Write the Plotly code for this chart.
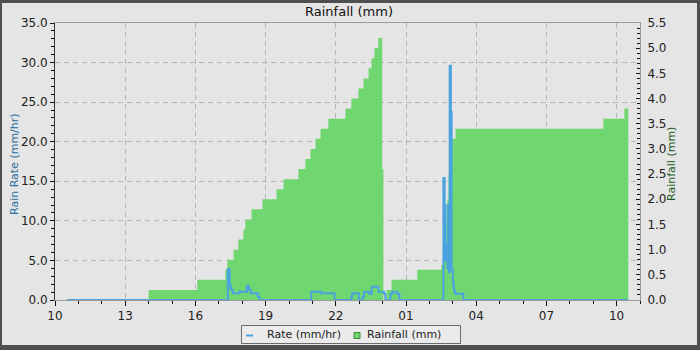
import plotly.graph_objects as go

# ---------------- data ----------------
rain_times = [
    "2024-06-01 14:00", "2024-06-01 16:05", "2024-06-01 17:17", "2024-06-01 17:22", "2024-06-01 17:38",
    "2024-06-01 17:50", "2024-06-01 18:03", "2024-06-01 18:08", "2024-06-01 18:24", "2024-06-01 18:52",
    "2024-06-01 19:28", "2024-06-01 19:46", "2024-06-01 20:24", "2024-06-01 20:42", "2024-06-01 20:55",
    "2024-06-01 21:08", "2024-06-01 21:21", "2024-06-01 21:41", "2024-06-01 22:25", "2024-06-01 22:40",
    "2024-06-01 22:58", "2024-06-01 23:11", "2024-06-01 23:24", "2024-06-01 23:32", "2024-06-01 23:39",
    "2024-06-01 23:49", "2024-06-01 23:59", "2024-06-02 00:02", "2024-06-02 00:10", "2024-06-02 00:23",
    "2024-06-02 01:29", "2024-06-02 02:31", "2024-06-02 02:36", "2024-06-02 02:39", "2024-06-02 02:44",
    "2024-06-02 02:46", "2024-06-02 02:49", "2024-06-02 02:52", "2024-06-02 02:54", "2024-06-02 03:07",
    "2024-06-02 09:26", "2024-06-02 10:20", "2024-06-02 10:30",
]
rain_mm = [
    0.2, 0.4, 0.6, 0.8, 1.0,
    1.2, 1.4, 1.6, 1.8, 2.0,
    2.2, 2.4, 2.6, 2.8, 3.0,
    3.2, 3.4, 3.6, 3.8, 4.0,
    4.2, 4.4, 4.6, 4.8, 5.0,
    5.2, 2.6, 0.0, 0.2, 0.4,
    0.6, 0.7, 1.1, 1.5, 1.9,
    2.0, 2.5, 2.9, 3.2, 3.4,
    3.6, 3.8, 0.0,
]

rate_times = [
    "2024-06-01 10:30", "2024-06-01 17:23", "2024-06-01 17:28", "2024-06-01 17:31", "2024-06-01 17:36",
    "2024-06-01 17:53", "2024-06-01 18:12", "2024-06-01 18:17", "2024-06-01 18:22", "2024-06-01 18:40",
    "2024-06-01 18:45", "2024-06-01 20:57", "2024-06-01 21:23", "2024-06-01 21:57", "2024-06-01 22:40",
    "2024-06-01 22:42", "2024-06-01 22:59", "2024-06-01 23:09", "2024-06-01 23:12", "2024-06-01 23:26",
    "2024-06-01 23:32", "2024-06-01 23:49", "2024-06-02 00:04", "2024-06-02 00:07", "2024-06-02 00:20",
    "2024-06-02 00:25", "2024-06-02 00:38", "2024-06-02 00:43", "2024-06-02 02:36", "2024-06-02 02:39",
    "2024-06-02 02:41", "2024-06-02 02:44", "2024-06-02 02:46", "2024-06-02 02:48", "2024-06-02 02:49",
    "2024-06-02 02:50", "2024-06-02 02:52", "2024-06-02 02:55", "2024-06-02 02:57", "2024-06-02 03:00",
    "2024-06-02 03:02", "2024-06-02 03:04", "2024-06-02 03:06", "2024-06-02 03:27", "2024-06-02 10:30",
]
rate_mmhr = [
    0.0, 3.9, 1.8, 1.3, 0.85,
    1.05, 1.8, 1.3, 0.85, 0.4,
    0.0, 1.05, 0.85, 0.0, 0.4,
    0.85, 0.0, 0.4, 1.05, 0.76,
    1.68, 1.05, 0.76, 0.0, 0.76,
    1.05, 0.76, 0.0, 15.4, 12.0,
    5.0, 7.0, 4.0, 12.0, 10.1,
    3.5, 29.6, 23.8, 3.8, 2.3,
    1.5, 1.05, 0.8, 0.0, 0.0,
]

x_range = ["2024-06-01 10:00", "2024-06-02 11:00"]
rate_ticks = [0, 5, 10, 15, 20, 25, 30, 35]
series_names = ["Rate (mm/hr)", "Rainfall (mm)"]

# ---------------- style ----------------
W, H = 700, 350
ML, MR, MT, MB = 55, 60, 23, 50
PW, PH = W - ML - MR, H - MT - MB
BG = "#e5e5e5"
GREEN = "rgb(112,214,112)"
BLUE = "rgb(74,163,223)"
FONT = "DejaVu Sans"


def px(xp):
    return (xp - ML) / PW


def py(yp):
    return (H - MB - yp) / PH


fig = go.Figure()

# cumulative rainfall (main y axis, drawn right)
fig.add_trace(go.Scatter(
    x=rain_times, y=rain_mm, mode="lines", line=dict(shape="hv", width=0, color=GREEN),
    fill="tozeroy", fillcolor=GREEN, yaxis="y", name=series_names[1], hoverinfo="skip",
))
# rain rate (overlay axis, drawn left, on top)
fig.add_trace(go.Scatter(
    x=rate_times, y=rate_mmhr, mode="lines", line=dict(shape="hv", width=2, color=BLUE),
    yaxis="y2", name=series_names[0],
))

grid = dict(showgrid=True, gridcolor="#b6b6b6", griddash="5px,4px", gridwidth=1)

fig.update_layout(
    width=W, height=H, showlegend=False,
    margin=dict(l=ML, r=MR, t=MT, b=MB, pad=0, autoexpand=False),
    paper_bgcolor=BG, plot_bgcolor=BG,
    font=dict(family=FONT, size=12, color="#222"),
    title=dict(text="Rainfall (mm)", x=349 / W, xanchor="center", xref="container",
               y=1 - 11.5 / H, yanchor="middle", yref="container",
               font=dict(size=13, color="#111", family=FONT)),
    xaxis=dict(
        type="date", range=x_range, tickformat="%H", dtick=3 * 3600000, tick0=x_range[0],
        ticks="outside", ticklen=5, tickcolor="#111", tickwidth=1,
        minor=dict(dtick=3600000, tick0=x_range[0], ticks="outside", ticklen=3, tickcolor="#111", showgrid=False),
        showline=True, linecolor="#9a9a9a", linewidth=1, mirror=True, zeroline=False,
        tickfont=dict(size=12, color="#222"), automargin=False, **grid,
    ),
    yaxis=dict(
        side="right", range=[0, 5.5], dtick=0.5, tick0=0, tickformat=".1f",
        ticks="inside", ticklen=4, tickcolor="#111",
        minor=dict(dtick=0.1, ticks="inside", ticklen=3, tickcolor="#111", showgrid=False),
        showgrid=False, zeroline=False, showline=True, linecolor="#9a9a9a",
        tickfont=dict(size=12, color="#222"), ticklabelstandoff=4, automargin=False,
    ),
    yaxis2=dict(
        side="left", overlaying="y", range=[0, 35], tickvals=rate_ticks, tickformat=".1f",
        ticks="outside", ticklen=4, tickcolor="#111",
        minor=dict(dtick=1, ticks="outside", ticklen=3, tickcolor="#111", showgrid=False),
        zeroline=False, showline=True, linecolor="#333",
        tickfont=dict(size=12, color="#222"), automargin=False, **grid,
    ),
    annotations=[
        dict(text="Rain Rate (mm/hr)", xref="paper", yref="paper", x=px(14), y=py(164),
             xanchor="center", yanchor="middle", textangle=-90, showarrow=False,
             font=dict(size=11, color="#2a6f9e", family=FONT)),
        dict(text="Rainfall (mm)", xref="paper", yref="paper", x=px(671), y=py(164),
             xanchor="center", yanchor="middle", textangle=-90, showarrow=False,
             font=dict(size=11, color="#1d5e1d", family=FONT)),
        # legend texts
        dict(text=series_names[0], xref="paper", yref="paper", x=px(266), y=py(334.5),
             xanchor="left", yanchor="middle", showarrow=False, borderpad=0,
             font=dict(size=11, color="#222", family=FONT)),
        dict(text=series_names[1], xref="paper", yref="paper", x=px(366), y=py(334.5),
             xanchor="left", yanchor="middle", showarrow=False, borderpad=0,
             font=dict(size=11, color="#222", family=FONT)),
    ],
)

# legend box and symbols
fig.add_shape(type="rect", xref="paper", yref="paper",
              x0=px(241.5), x1=px(460.5), y0=py(343.5), y1=py(325.5),
              line=dict(width=1, color="#6a6a6a"), fillcolor="#ebebeb", layer="above")
fig.add_shape(type="line", xref="paper", yref="paper",
              x0=px(246), x1=px(253), y0=py(335.5), y1=py(335.5),
              line=dict(width=2, color=BLUE), layer="above")
fig.add_shape(type="rect", xref="paper", yref="paper",
              x0=px(354), x1=px(360), y0=py(338.5), y1=py(332.5),
              line=dict(width=1, color="#3a8a3a"), fillcolor=GREEN, layer="above")

# dark outer frame
BORDER = "#4f4f4f"
for (x0, y0, x1, y1) in [(0, 0, 2, H), (0, 0, W, 3), (W - 3, 0, W, H), (0, H - 5, W, H)]:
    fig.add_shape(type="rect", xref="paper", yref="paper",
                  x0=px(x0), x1=px(x1), y0=py(y1), y1=py(y0),
                  line=dict(width=0), fillcolor=BORDER, layer="above")

fig.write_html("out.html")
